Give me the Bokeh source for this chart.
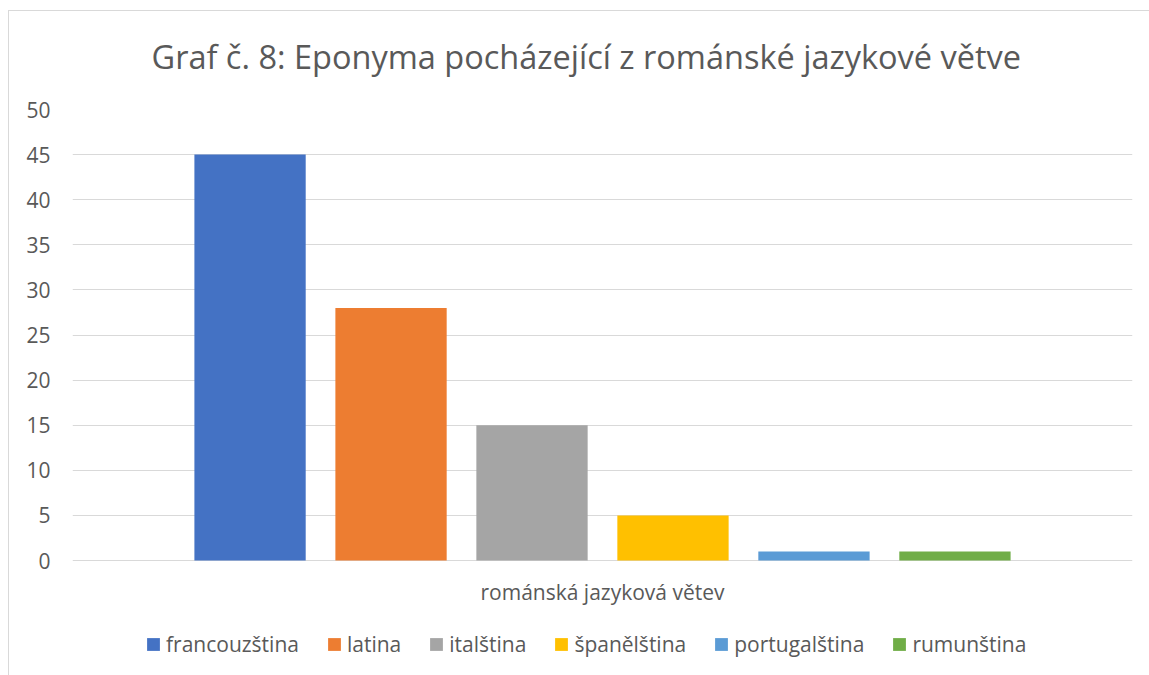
from bokeh.plotting import figure
from bokeh.models import FactorRange, Range1d, Legend, LegendItem, ColumnDataSource, FixedTicker
from bokeh.core.properties import value
from bokeh.transform import dodge
from bokeh.embed import file_html
from bokeh.resources import INLINE

title_text = "Graf č. 8: Eponyma pocházející z románské jazykové větve"
category = ["románská jazyková větev"]
languages = ["francouzština", "latina", "italština", "španělština", "portugalština", "rumunština"]
counts = [45, 28, 15, 5, 1, 1]
colors = ["#4472C4", "#ED7D31", "#A5A5A5", "#FFC000", "#5B9BD5", "#70AD47"]
y_ticks = [0, 5, 10, 15, 20, 25, 30, 35, 40, 45, 50]

FONT = "Open Sans"
TXT = "#595959"
GRID = "#d9d9d9"

PLOT_H = 451          # pixel height of the 0..50 value area
EXTRA_H = 116         # room below the zero line for category label and legend
y_min = -EXTRA_H * 50 / PLOT_H

p = figure(
    x_range=FactorRange(factors=category, range_padding=0),
    y_range=Range1d(y_min, 50),
    frame_width=1060, frame_height=PLOT_H + EXTRA_H,
    output_backend="svg", toolbar_location=None,
    title=title_text, x_axis_location=None,
    min_border_left=72, min_border_right=17, min_border_top=108, min_border_bottom=0,
)
p.styles = {
    "background": "linear-gradient(#d9d9d9, #d9d9d9) 8px 10px / 1px 100% no-repeat, "
                  "linear-gradient(#d9d9d9, #d9d9d9) 8px 10px / 100% 1px no-repeat, #ffffff",
}
p.border_fill_color = None
p.background_fill_color = None
p.outline_line_color = None

p.title.text_font = FONT
p.title.text_font_size = "32.5px"
p.title.text_font_style = "normal"
p.title.text_color = TXT
p.title.align = "left"
p.title.offset = 79
p.title.standoff = 62

step = 0.133
bar_w = 0.105
items = []
for i, (lang, val, col) in enumerate(zip(languages, counts, colors)):
    src = ColumnDataSource(dict(cat=category, val=[val]))
    off = (i - (len(languages) - 1) / 2) * step
    r = p.vbar(x=dodge("cat", off, range=p.x_range), top="val", bottom=0, width=bar_w,
               source=src, fill_color=col, line_color=None)
    items.append(LegendItem(label=lang, renderers=[r]))

# category label under the zero line
p.text(x=category, y=[0], text=category, y_offset=31, text_align="center",
       text_baseline="middle", text_font=value(FONT), text_font_size=value("21px"),
       text_color=TXT)

p.xgrid.grid_line_color = None
p.ygrid.grid_line_color = GRID
p.ygrid.grid_line_width = 1
p.yaxis.ticker = FixedTicker(ticks=y_ticks)

ax = p.yaxis[0]
ax.axis_line_color = None
ax.major_tick_line_color = None
ax.minor_tick_line_color = None
ax.major_tick_in = 0
ax.major_tick_out = 0
ax.major_label_text_font = FONT
ax.major_label_text_color = TXT
ax.major_label_text_font_size = "21px"
ax.major_label_standoff = 22

legend = Legend(items=items, orientation="horizontal", location=(73, 18),
                label_text_font=FONT, label_text_font_size="21px", label_text_color=TXT,
                glyph_width=16, glyph_height=16, label_standoff=5, spacing=27,
                border_line_color=None, background_fill_alpha=0, padding=0, margin=0)
p.add_layout(legend)

open("out.html", "w").write(file_html(p, INLINE))
